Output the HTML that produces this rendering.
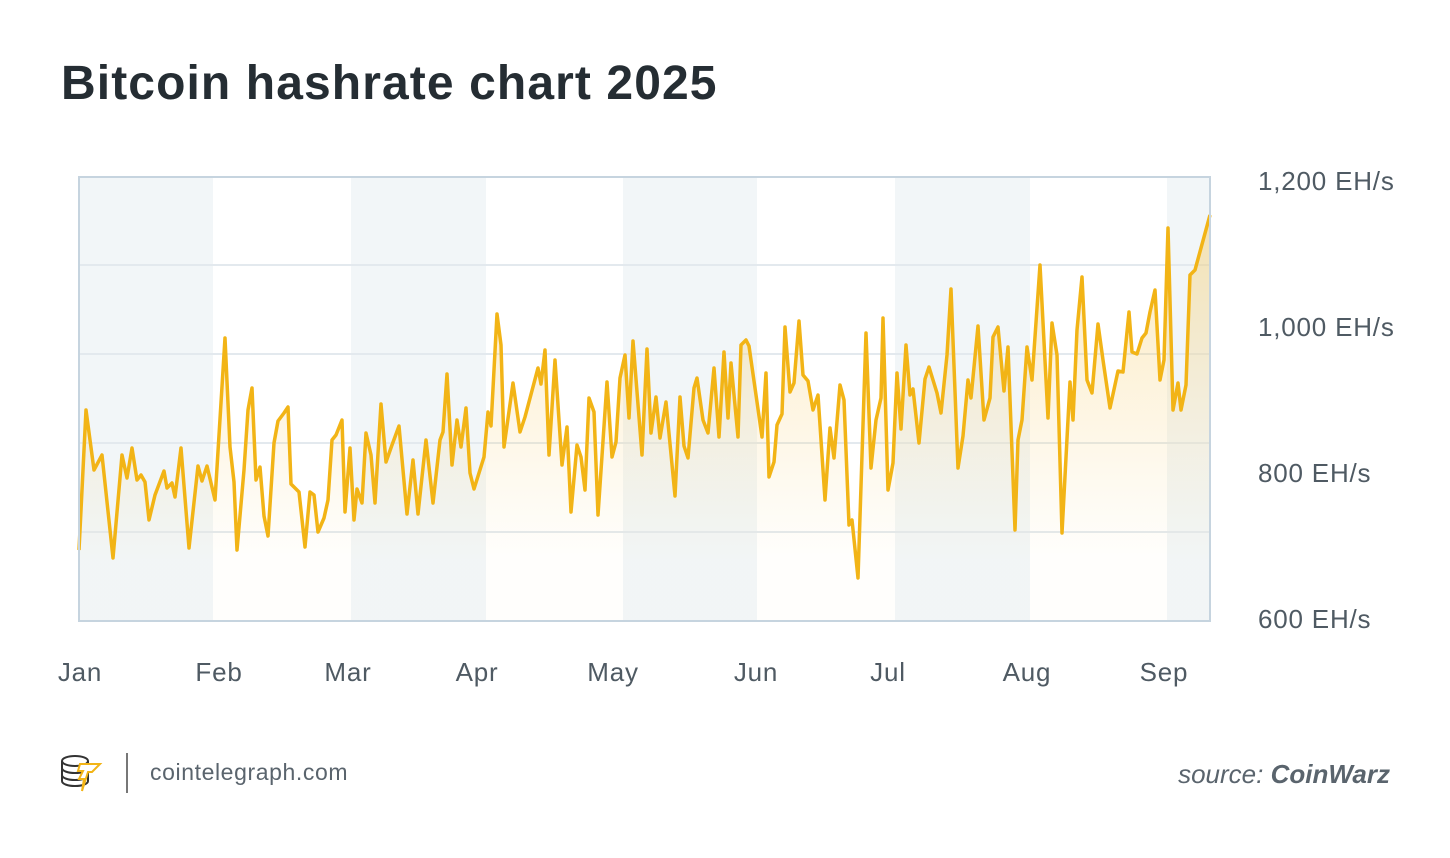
<!DOCTYPE html>
<html><head><meta charset="utf-8"><style>
body{margin:0;background:#fff;font-family:"Liberation Sans",sans-serif}
</style></head><body>
<svg width="1450" height="853" xmlns="http://www.w3.org/2000/svg">
<rect width="1450" height="853" fill="#fff"/>
<text x="61" y="99" font-size="48" font-weight="bold" letter-spacing="1.1" fill="#252d33" font-family="Liberation Sans, sans-serif">Bitcoin hashrate chart 2025</text>
<g fill="#f2f6f8">
<rect x="79" y="177" width="134" height="444"/>
<rect x="351" y="177" width="135" height="444"/>
<rect x="623" y="177" width="134" height="444"/>
<rect x="895" y="177" width="135" height="444"/>
<rect x="1167" y="177" width="43" height="444"/>
</g>
<g stroke="#e3e9ee" stroke-width="2">
<line x1="79" x2="1210" y1="265" y2="265"/>
<line x1="79" x2="1210" y1="354" y2="354"/>
<line x1="79" x2="1210" y1="443" y2="443"/>
<line x1="79" x2="1210" y1="532" y2="532"/>
</g>
<defs><linearGradient id="g" x1="0" y1="0" x2="0" y2="1">
<stop offset="0" stop-color="#f5c24a" stop-opacity="0.4"/>
<stop offset="0.85" stop-color="#f8d27a" stop-opacity="0.02"/>
</linearGradient></defs>
<polygon id="area" fill="url(#g)" points=""/>
<polyline id="ln" fill="none" stroke="#f2b416" stroke-width="3.5" stroke-linejoin="round" points=""/>
<rect x="79" y="177" width="1131" height="444" fill="none" stroke="#c6d4df" stroke-width="2"/>
<g font-size="26" fill="#4f5a63" letter-spacing="0.8" font-family="Liberation Sans, sans-serif">
<text x="1258" y="190">1,200 EH/s</text>
<text x="1258" y="336">1,000 EH/s</text>
<text x="1258" y="482">800 EH/s</text>
<text x="1258" y="628">600 EH/s</text>
<g text-anchor="middle">
<text x="80" y="681">Jan</text><text x="219" y="681">Feb</text><text x="348" y="681">Mar</text>
<text x="477" y="681">Apr</text><text x="613" y="681">May</text><text x="756" y="681">Jun</text>
<text x="888" y="681">Jul</text><text x="1027" y="681">Aug</text><text x="1164" y="681">Sep</text>
</g></g>
<g fill="none" stroke-width="2">
<ellipse cx="75" cy="761" rx="13" ry="5" stroke="#333"/>
<path d="M62 761v20c0 3 6 5 13 5s13-2 13-5v-20M62 768c0 3 6 5 13 5s13-2 13-5M62 775c0 3 6 5 13 5s13-2 13-5" stroke="#333"/>
<path d="M80 764h20l-8 8h-4l-6 19l2-12h-5l4-8h-5z" stroke="#f2b416" fill="#fff"/>
</g>
<line x1="127" y1="753" x2="127" y2="793" stroke="#777" stroke-width="2"/>
<text x="150" y="780" font-size="23" letter-spacing="0.6" fill="#5a646d" font-family="Liberation Sans, sans-serif">cointelegraph.com</text>
<text x="1390" y="783" font-size="26" text-anchor="end" fill="#5a646d" font-style="italic" font-family="Liberation Sans, sans-serif">source: <tspan font-weight="bold">CoinWarz</tspan></text>
</svg>
<script>
var p="79,550 86,410 94,470 102,455 113,558 122,455 127,478 132,448 137,480 141,475 145,482 149,520 155,495 164,471 167,488 172,483 175,497 181,448 189,548 198,466 202,481 207,466 215,500 225,338 230,447 234,482 237,550 244,470 248,410 252,388 256,480 260,467 264,516 268,536 274,443 278,421 284,413 288,407 291,484 299,492 305,547 310,492 314,495 318,532 324,518 328,500 332,440 336,435 342,420 345,512 350,448 354,520 357,489 362,503 366,433 371,455 375,503 381,404 386,462 392,445 399,426 407,514 413,460 418,514 426,440 433,503 440,440 443,432 447,374 452,465 457,420 461,447 466,408 470,473 474,489 484,457 488,412 491,426 497,314 501,345 504,447 513,383 520,432 525,417 538,368 541,384 545,350 549,455 555,360 562,465 567,427 571,512 577,445 581,457 585,490 589,398 594,412 598,515 607,382 612,457 616,442 620,378 625,355 629,418 633,341 642,455 647,349 651,433 656,397 660,438 666,402 675,496 680,397 684,446 688,458 694,388 697,378 703,420 708,433 714,368 719,437 724,352 728,418 731,363 738,437 741,345 746,340 749,346 756,395 762,437 766,373 769,477 774,462 777,425 782,414 785,327 790,392 794,383 799,321 803,375 808,381 813,410 818,395 825,500 830,428 834,458 840,385 844,400 849,525 852,520 858,578 866,333 871,468 876,420 881,398 883,318 888,490 893,463 897,373 901,429 906,345 910,395 913,389 919,443 925,379 929,367 937,393 941,413 947,355 951,289 958,468 963,436 968,380 971,398 978,326 984,420 990,398 993,337 998,327 1004,391 1008,347 1015,530 1018,440 1022,420 1027,347 1032,380 1040,265 1048,418 1052,323 1057,355 1062,533 1070,382 1073,420 1077,330 1082,277 1087,380 1092,393 1098,324 1103,360 1110,408 1118,371 1123,372 1129,312 1132,352 1137,354 1142,338 1146,333 1150,312 1155,290 1160,380 1164,360 1168,228 1173,410 1178,383 1181,410 1186,385 1190,275 1195,270 1210,215";
document.getElementById('ln').setAttribute('points',p);
document.getElementById('area').setAttribute('points',p+" 1210,621 79,621");
</script>
</body></html>
